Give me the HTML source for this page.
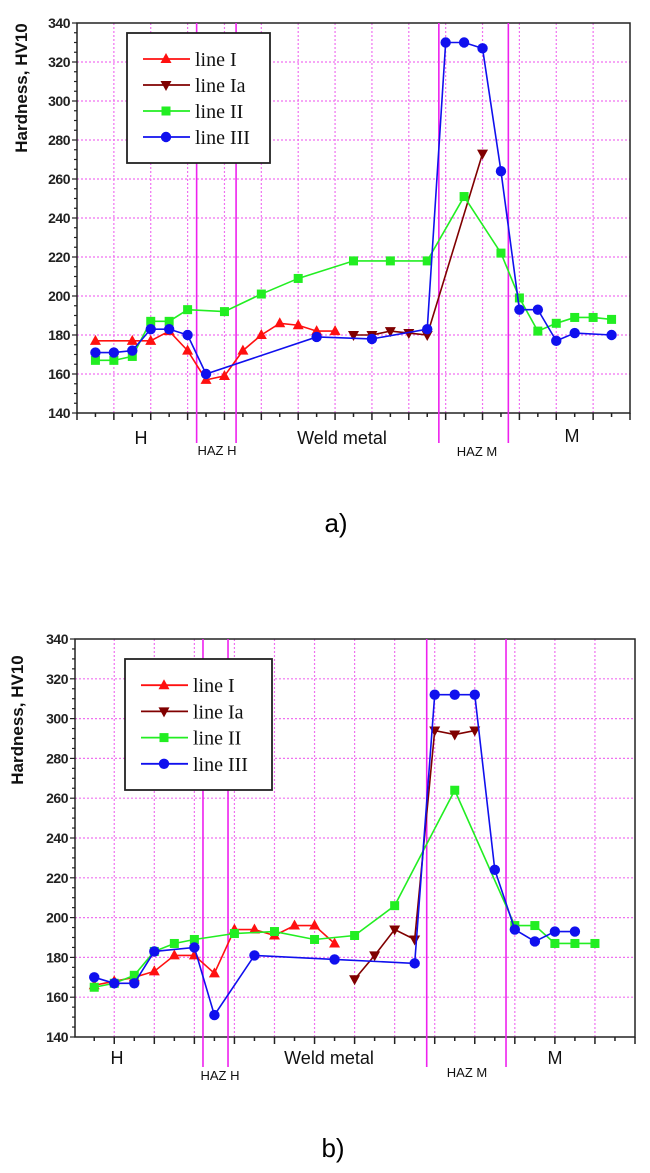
<!DOCTYPE html>
<html><head><meta charset="utf-8">
<style>
html,body{margin:0;padding:0;background:#fff;}
svg{display:block;}
text{font-family:"Liberation Sans",Arial,sans-serif;}
.ser{font-family:"Liberation Serif","Times New Roman",serif;}
</style></head>
<body>
<svg id="root" width="650" height="1173" viewBox="0 0 650 1173">
<g id="chartA"></g>
<g id="chartB"></g>
<text x="336" y="532" font-size="26" text-anchor="middle">a)</text>
<text x="333" y="1157" font-size="26" text-anchor="middle">b)</text>
</svg>
<script>
// ---- data chart a ----
const yTicks = [140,160,180,200,220,240,260,280,300,320,340];
const aLineIx = [0,2,3,4,5,6,7,8,9,10,11,12,13];
const aLineIy = [177,177,177,182,172,157,159,172,180,186,185,182,182];
const aLineIax = [14,15,16,17,18,21];
const aLineIay = [180,180,182,181,180,273];
const aLineIIx = [0,1,2,3,4,5,7,9,11,14,16,18,20,22,23,24,25,26,27,28];
const aLineIIy = [167,167,169,187,187,193,192,201,209,218,218,218,251,222,199,182,186,189,189,188];
const aLineIIIx = [0,1,2,3,4,5,6,12,15,18,19,20,21,22,23,24,25,26,28];
const aLineIIIy = [171,171,172,183,183,180,160,179,178,183,330,330,327,264,193,193,177,181,180];
const aZones = [5.49,7.63,18.63,22.4];
// ---- data chart b ----
const bLineIx = [0,1,2,3,4,5,6,7,8,9,10,11,12];
const bLineIy = [166,168,170,173,181,181,172,194,194,191,196,196,187];
const bLineIax = [13,14,15,16,17,18,19];
const bLineIay = [169,181,194,189,294,292,294];
const bLineIIx = [0,1,2,3,4,5,7,9,11,13,15,18,21,22,23,24,25];
const bLineIIy = [165,167,171,183,187,189,192,193,189,191,206,264,196,196,187,187,187];
const bLineIIIx = [0,1,2,3,5,6,8,12,16,17,18,19,20,21,22,23,24];
const bLineIIIy = [170,167,167,183,185,151,181,179,177,312,312,312,224,194,188,193,193];
const bZones = [5.43,6.68,16.6,20.56];

const NS="http://www.w3.org/2000/svg";
function mk(p,tag,attrs){const e=document.createElementNS(NS,tag);for(const k in attrs)e.setAttribute(k,attrs[k]);p.appendChild(e);return e;}

function drawChart(g,cfg,series,zones,labels){
  const X=i=>cfg.x0+(i-cfg.xmin)/(cfg.xmax-cfg.xmin)*(cfg.x1-cfg.x0);
  const Y=v=>cfg.y1-(v-140)/200*(cfg.y1-cfg.y0);
  for(const t of yTicks){ if(t===140||t===340) continue;
    const l=mk(g,'line',{x1:cfg.x0,x2:cfg.x1,y1:Y(t),y2:Y(t),stroke:'#f070f0','stroke-width':1.2,'stroke-dasharray':'2,2'});
    
    
  }
  for(let i=1;i<cfg.xmax;i+=2){
    const l=mk(g,'line',{x1:X(i),x2:X(i),y1:cfg.y0,y2:cfg.y1,stroke:'#f070f0','stroke-width':1.2,'stroke-dasharray':'2,2'});
    
    
  }
  const fr=mk(g,'rect',{x:cfg.x0,y:cfg.y0,width:cfg.x1-cfg.x0,height:cfg.y1-cfg.y0,fill:'none',stroke:'#222','stroke-width':1.5});
  
  
  for(let v=140;v<=340;v+=5){
    const major=v%20===0;
    mk(g,'line',{x1:cfg.x0-(major?5:3),x2:cfg.x0,y1:Y(v),y2:Y(v),stroke:'#222','stroke-width':1.2});
  }
  for(const t of yTicks){
    const tx=mk(g,'text',{x:cfg.x0-7,y:Y(t)+5,'font-size':14,'font-weight':'bold','text-anchor':'end',fill:'#222','letter-spacing':'-0.5'});
    tx.textContent=t;
    
    
  }
  for(let i=Math.ceil(cfg.xmin);i<=cfg.xmax;i+=1){
    const major=i%2===1||i%2===-1;
    mk(g,'line',{x1:X(i),x2:X(i),y1:cfg.y1,y2:cfg.y1+(major?7:4),stroke:'#222','stroke-width':1.5});
  }
  const yt=mk(g,'text',{x:0,y:0,'font-size':17,'font-weight':'bold','text-anchor':'middle',fill:'#111',transform:`translate(${cfg.ytx},${cfg.ytc}) rotate(-90)`});
  yt.textContent='Hardness, HV10';
  
  
  for(const z of zones){
    const l=mk(g,'line',{x1:X(z),x2:X(z),y1:cfg.y0,y2:cfg.y1+30,stroke:'#ee22ee','stroke-width':1.6});
    
    
  }
  for(const s of series){
    const sg=mk(g,'g',{});
    
    
    const pts=s.x.map((xi,k)=>X(xi)+','+Y(s.y[k])).join(' ');
    mk(sg,'polyline',{points:pts,fill:'none',stroke:s.color,'stroke-width':1.6});
    s.x.forEach((xi,k)=>{ marker(sg,s.shape,X(xi),Y(s.y[k]),s.color); });
  }
  const L=cfg.leg;
  const lg=mk(g,'g',{});
  
  
  mk(lg,'rect',{x:L.x,y:L.y,width:L.w,height:L.h,fill:'#fff',stroke:'#222','stroke-width':1.8});
  series.forEach((s,k)=>{
    const yy=L.y+L.h*(0.2+k*0.2);
    const eg=mk(lg,'g',{});
    
    
    mk(eg,'line',{x1:L.x+16,x2:L.x+63,y1:yy,y2:yy,stroke:s.color,'stroke-width':1.8});
    marker(eg,s.shape,L.x+39,yy,s.color);
    const t=mk(eg,'text',{x:L.x+68,y:yy+7,'font-size':20,fill:'#111',class:'ser'});
    t.textContent=s.name;
  });
  for(const lb of labels){
    const t=mk(g,'text',{x:lb.x,y:lb.y,'font-size':lb.s,'text-anchor':'middle',fill:'#111'});
    t.textContent=lb.t;
    
    
  }
}
function marker(p,shape,x,y,c){
  let e;
  if(shape==='up') e=mk(p,'polygon',{points:`${x},${y-6} ${x-5.5},${y+4} ${x+5.5},${y+4}`,fill:c});
  else if(shape==='down') e=mk(p,'polygon',{points:`${x},${y+6} ${x-5.5},${y-4} ${x+5.5},${y-4}`,fill:c});
  else if(shape==='sq') e=mk(p,'rect',{x:x-4.5,y:y-4.5,width:9,height:9,fill:c});
  else e=mk(p,'circle',{cx:x,cy:y,r:5.2,fill:c});
  
  
}
const colors={I:'#ff1010',Ia:'#800000',II:'#22ee22',III:'#1010ee'};
drawChart(document.getElementById('chartA'),
 {x0:77,x1:630,y0:23,y1:413,xmin:-1,xmax:29,ytx:27,ytc:88,leg:{x:127,y:33,w:143,h:130}},
 [{name:'line I',x:aLineIx,y:aLineIy,color:colors.I,shape:'up'},
  {name:'line Ia',x:aLineIax,y:aLineIay,color:colors.Ia,shape:'down'},
  {name:'line II',x:aLineIIx,y:aLineIIy,color:colors.II,shape:'sq'},
  {name:'line III',x:aLineIIIx,y:aLineIIIy,color:colors.III,shape:'c'}],
 aZones,
 [{t:'H',x:141,y:444,s:18},{t:'Weld metal',x:342,y:444,s:18},{t:'M',x:572,y:442,s:18},
  {t:'HAZ H',x:217,y:455,s:13},{t:'HAZ M',x:477,y:456,s:13}]);
drawChart(document.getElementById('chartB'),
 {x0:75,x1:635,y0:639,y1:1037,xmin:-0.96,xmax:27,ytx:23,ytc:720,leg:{x:125,y:659,w:147,h:131}},
 [{name:'line I',x:bLineIx,y:bLineIy,color:colors.I,shape:'up'},
  {name:'line Ia',x:bLineIax,y:bLineIay,color:colors.Ia,shape:'down'},
  {name:'line II',x:bLineIIx,y:bLineIIy,color:colors.II,shape:'sq'},
  {name:'line III',x:bLineIIIx,y:bLineIIIy,color:colors.III,shape:'c'}],
 bZones,
 [{t:'H',x:117,y:1064,s:18},{t:'Weld metal',x:329,y:1064,s:18},{t:'M',x:555,y:1064,s:18},
  {t:'HAZ H',x:220,y:1080,s:13},{t:'HAZ M',x:467,y:1077,s:13}]);
</script>
</body></html>
